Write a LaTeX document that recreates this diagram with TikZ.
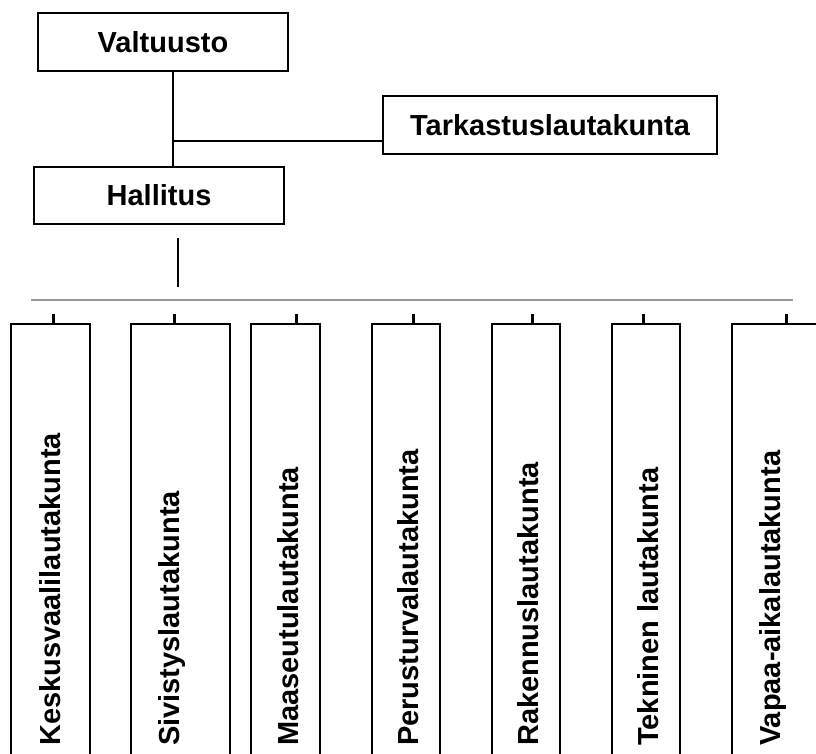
\documentclass[tikz,border=0pt]{standalone}
\usepackage{fontspec}
\setmainfont{Liberation Sans}
\begin{document}
\begin{tikzpicture}[x=1pt,y=-1pt,
  lbl/.style={font=\bfseries\fontsize{29}{34}\selectfont},
  topbox/.style={draw, line width=1.5pt, lbl, inner sep=0pt},
  unitbox/.style={draw, line width=1.5pt, anchor=north west, minimum height=470pt, inner sep=0pt},
  vlabel/.style={lbl, rotate=90, anchor=base west, inner sep=0pt},
  conn/.style={line width=1.3pt},
  tick/.style={line width=3pt}]
\useasboundingbox (0,0) rectangle (816,753);
\clip (0,0) rectangle (816,753);
% top boxes
\node[topbox, minimum width=250pt, minimum height=58pt] (v) at (163,42) {Valtuusto};
\node[topbox, minimum width=250pt, minimum height=57pt] (h) at (159,195.5) {Hallitus};
\node[topbox, minimum width=334pt, minimum height=58pt] (t) at (550,125) {Tarkastuslautakunta};
\coordinate (j) at (173,141);
\draw[conn] (j |- v.south) -- (j |- h.north);
\draw[conn] (j) -- (t.west |- j);
\coordinate (hd1) at (178,238);
\coordinate (hd2) at (178,287);
\draw[conn] (hd1) -- (hd2);
% gray bus line
\coordinate (g1) at (31,300);
\coordinate (g2) at (793,300);
\draw[line width=2.2pt, black!40] (g1) -- (g2);
% unit boxes
\node[unitbox, minimum width=79pt] (b1) at (10,323) {};
\node[unitbox, minimum width=99pt] (b2) at (130,323) {};
\node[unitbox, minimum width=69pt] (b3) at (250,323) {};
\node[unitbox, minimum width=68pt] (b4) at (371,323) {};
\node[unitbox, minimum width=68pt] (b5) at (491,323) {};
\node[unitbox, minimum width=68pt] (b6) at (611,323) {};
\node[unitbox, minimum width=110pt] (b7) at (731,323) {};
% ticks
\foreach \b/\x in {b1/53,b2/174,b3/296,b4/413,b5/532,b6/643,b7/786}{
  \coordinate (\b t) at (\x,314);
  \draw[tick] (\b t) -- (\b t |- \b.north);
}
% labels
\node[vlabel] (l1) at (60,746) {Keskusvaalilautakunta};
\node[vlabel] (l2) at (179,746) {Sivistyslautakunta};
\node[vlabel] (l3) at (298,746) {Maaseutulautakunta};
\node[vlabel] (l4) at (418,746) {Perusturvalautakunta};
\node[vlabel] (l5) at (538,746) {Rakennuslautakunta};
\node[vlabel] (l6) at (658,746) {Tekninen lautakunta};
\node[vlabel] (l7) at (780,746) {Vapaa-aikalautakunta};
\end{tikzpicture}
\end{document}
